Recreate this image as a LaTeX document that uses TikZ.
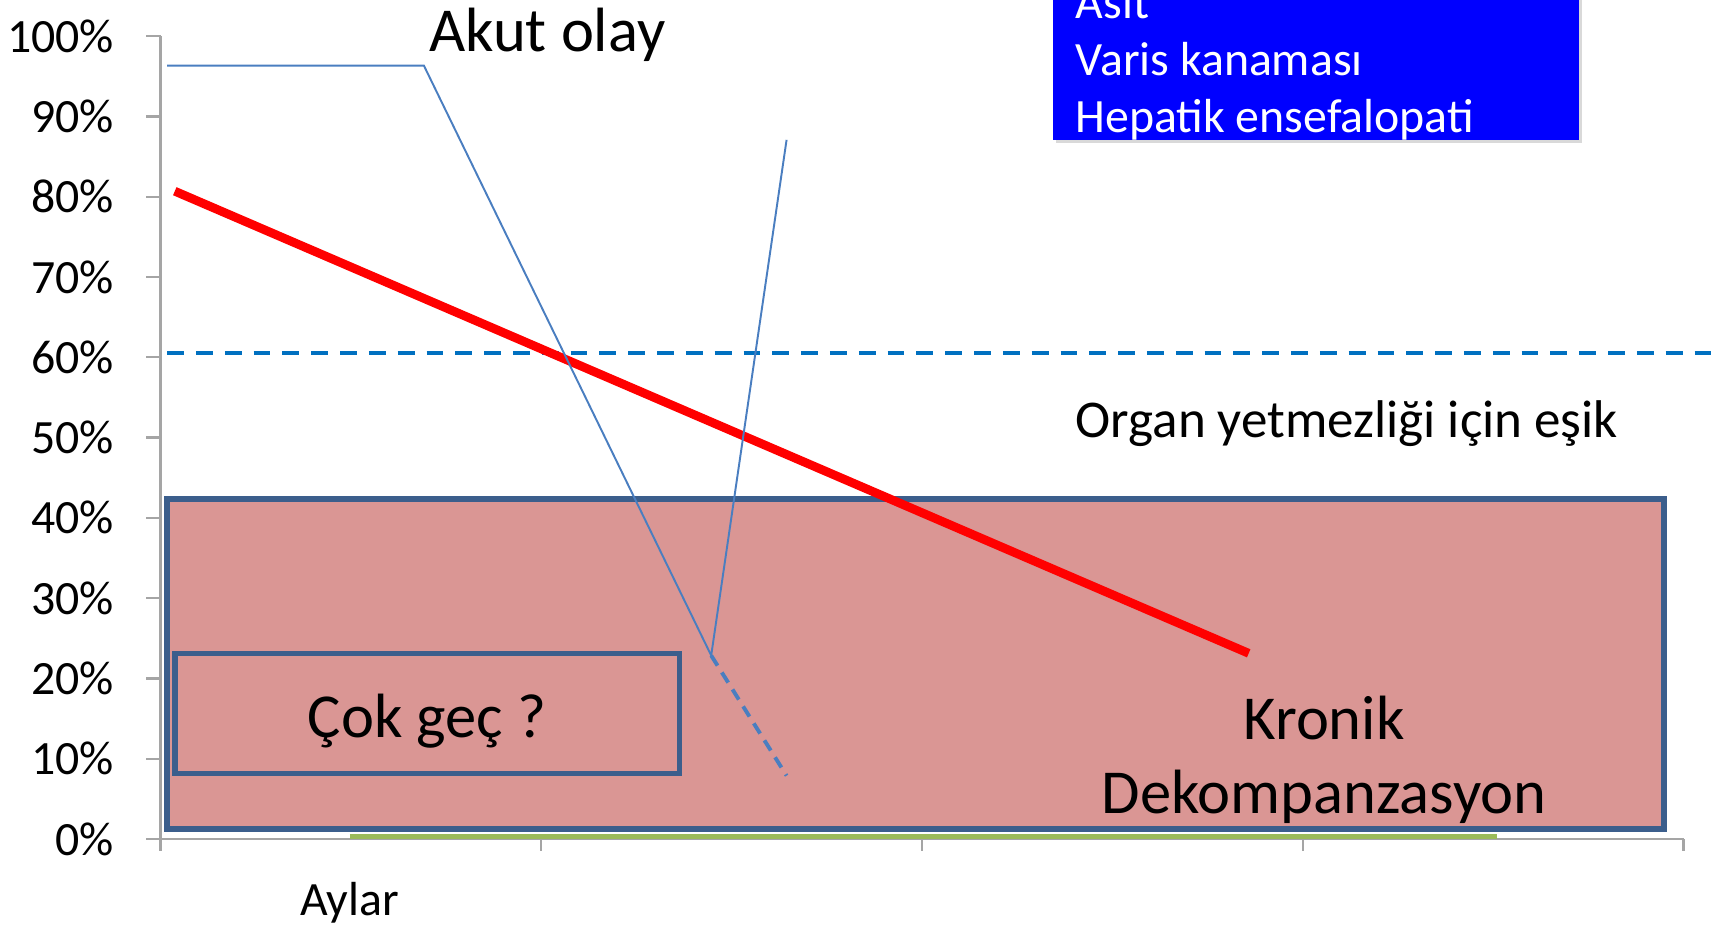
\documentclass[tikz,border=0pt]{standalone}
\usepackage{fontspec}
\setmainfont{Carlito}
\usetikzlibrary{calc}

\definecolor{bandfill}{RGB}{218,150,148}
\definecolor{bandline}{RGB}{59,94,140}
\definecolor{curveblue}{RGB}{74,126,192}
\definecolor{limitblue}{RGB}{0,112,192}
\definecolor{axisgray}{RGB}{165,165,165}
\definecolor{basegreen}{RGB}{155,187,89}

\begin{document}
\begin{tikzpicture}[
	x=0.010924cm, y=-0.010924cm,
	every node/.style={
		inner sep=0pt,
		text=black
	},
	small/.style={font=\fontsize{13.6}{16.3}\selectfont},
	medium/.style={font=\fontsize{15.1}{18.1}\selectfont},
	large/.style={font=\fontsize{17.8}{21.4}\selectfont},
	band/.style={draw=bandline, fill=bandfill, line width=1.6pt},
	tick/.style={draw=axisgray, line width=0.65pt}
]
\useasboundingbox (0,0) rectangle (1568,850);
\clip (0,0) rectangle (1568,850);

% axes
\draw[tick] (147,33) -- (147,768) -- (1541,768);
\foreach \p in {0,10,...,100} {
	\draw[tick] (134,{768-7.35*\p}) -- (147,{768-7.35*\p});
	\node[small, anchor=east] (Y\p) at (105,{768-7.35*\p}) {\p\%};
}
\foreach \t in {147,495.5,844,1192.5,1541} {
	\draw[tick] (\t,768) -- (\t,779);
}
\node[small, anchor=base] (X) at (320,838) {Aylar};

% bands
\draw[band] (153,457) rectangle (1523,759);
\draw[basegreen, line width=1.3pt] (320,765.5) -- (1370,765.5);
\draw[band] (160,598) rectangle (622,708);
\node[large, anchor=base] (late) at (391,675) {Çok geç ?};
\node[large, anchor=base] (K1) at (1212,677) {Kronik};
\node[large, anchor=base] (K2) at (1212,745) {Dekompanzasyon};

% threshold
\draw[limitblue, line width=1.1pt, dash pattern=on 4.8pt off 3.4pt] (153,323) -- (1568,323);
\node[medium, anchor=base west] (limit) at (984,400) {Organ yetmezliği için eşik};

% chronic decline
\draw[red, line width=2.5pt] (160,175) -- (1143,598);

% acute event
\coordinate (A0) at (153,60);
\coordinate (A1) at (388,60);
\coordinate (A2) at (651,600);
\coordinate (A3) at (720,128);
\coordinate (A4) at (720,710);
\draw[curveblue, line width=0.55pt] (A0) -- (A1) -- (A2) -- (A3);
\draw[curveblue, line width=1.1pt, dash pattern=on 3.4pt off 2.3pt] (A2) -- (A4);
\node[large, anchor=base] (acute) at (501,47) {Akut olay};

% events box
\fill[black!15] (967,-20) rectangle (1448,131);
\fill[blue] (964,-20) rectangle (1445,128);
\node[small, text=white, anchor=base west] (S1) at (984,17) {Asit};
\node[small, text=white, anchor=base west] (S2) at (984,69) {Varis kanaması};
\node[small, text=white, anchor=base west] (S3) at (984,121) {Hepatik ensefalopati};
\end{tikzpicture}
\end{document}
